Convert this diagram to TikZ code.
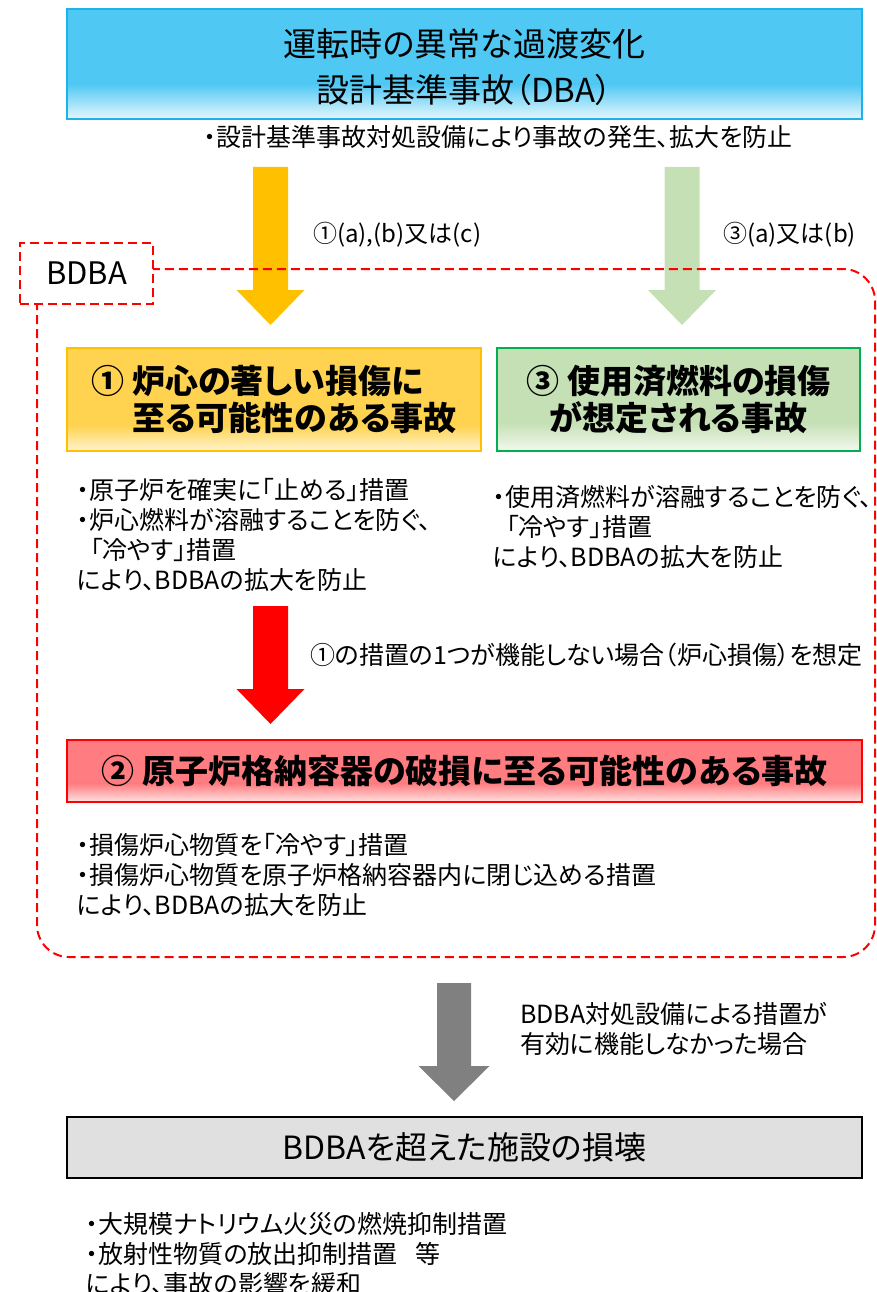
\documentclass[tikz,border=0pt]{standalone}
\usepackage{fontspec}
\setmainfont[RawFeature=+palt]{Noto Sans CJK JP}
\usetikzlibrary{calc}
\definecolor{cyanfill}{HTML}{4FC8F4}
\definecolor{cyanlight}{HTML}{E6F7FD}
\definecolor{cyanborder}{HTML}{1DB2EA}
\definecolor{goldfill}{HTML}{FFD34F}
\definecolor{goldlight}{HTML}{FFF4D1}
\definecolor{goldborder}{HTML}{FFC000}
\definecolor{greenfill}{HTML}{C5E0B4}
\definecolor{greenlight}{HTML}{F2F9EE}
\definecolor{greenborder}{HTML}{00B050}
\definecolor{pinkfill}{HTML}{FF7C80}
\definecolor{pinklight}{HTML}{FFE3E3}
\definecolor{grayfill}{HTML}{E0E0E0}
\definecolor{arrowyellow}{HTML}{FFC000}
\definecolor{arrowgreen}{HTML}{C5E0B4}
\definecolor{arrowgray}{HTML}{808080}
\newcommand\myarrow[4]{\fill[#1] (#2-17.5,#3) -- (#2+17.5,#3) -- (#2+17.5,#4-35) -- (#2+34,#4-35) -- (#2,#4) -- (#2-34,#4-35) -- (#2-17.5,#4-35) -- cycle;}
\begin{document}
\begin{tikzpicture}[x=1pt,y=-1pt,
  gbox/.style n args={4}{draw=#1, line width=2.2pt, inner sep=0pt,
    path picture={
      \fill[#2] (path picture bounding box.south west) rectangle (path picture bounding box.north east);
      \shade[top color=#2, bottom color=#3] (path picture bounding box.south west) rectangle ($(path picture bounding box.north east)!#4!(path picture bounding box.south east)$);
    }},
  titlefont/.style={font=\fontsize{33}{46}\selectfont},
  boxfont/.style={font=\bfseries\fontsize{33}{37}\selectfont},
  bodytext/.style={anchor=west, align=left, inner sep=0pt, font=\fontsize{25}{30}\selectfont},
  bdbaline/.style={draw=red, line width=2pt, dash pattern=on 9pt off 5pt},
]
\useasboundingbox (0,0) rectangle (877,1292);

% top box
\node[gbox={cyanborder}{cyanfill}{cyanlight}{0.68}, minimum width=795pt, minimum height=110pt, inner ysep=0pt] (dba) at (464.5,64) {};
\node[titlefont, align=center, inner sep=0pt] (dbatitle) at (464.5,67.5) {運転時の異常な過渡変化\\設計基準事故（DBA）};
\node[bodytext] (dbatext) at (204,137) {・設計基準事故対処設備により事故の発生、拡大を防止};

% arrows from top
\myarrow{arrowyellow}{270.5}{167}{325}
\myarrow{arrowgreen}{682}{167}{325}
\node[bodytext, font=\fontsize{24}{30}\selectfont] (lab1) at (313,235) {①(a),(b)又は(c)};
\node[bodytext, font=\fontsize{24}{30}\selectfont] (lab3) at (723,235) {③(a)又は(b)};

% BDBA region
\draw[bdbaline, rounded corners=32pt] (37,269) rectangle (875,957);
\node[bdbaline, fill=white, minimum width=133pt, minimum height=61pt, font=\fontsize{31}{32}\selectfont] (bdba) at (86.5,273) {BDBA};

% box 1
\node[gbox={goldborder}{goldfill}{goldlight}{0.75}, minimum width=414pt, minimum height=103pt, boxfont, align=left] (box1) at (274,399.5) {① 炉心の著しい損傷に\\\hspace*{41pt}至る可能性のある事故};
% box 3
\node[gbox={greenborder}{greenfill}{greenlight}{0.72}, minimum width=363pt, minimum height=103pt, boxfont, align=center] (box3) at (678.5,399.5) {③ 使用済燃料の損傷\\が想定される事故};

\node[bodytext] (text1) at (77,535) {・原子炉を確実に「止める」措置\\・炉心燃料が溶融することを防ぐ、\\\hspace*{13pt}「冷やす」措置\\により、BDBAの拡大を防止};
\node[bodytext] (text3) at (493,527) {・使用済燃料が溶融することを防ぐ、\\\hspace*{13pt}「冷やす」措置\\により、BDBAの拡大を防止};

% red arrow
\myarrow{red}{270.5}{606}{724}
\node[bodytext] (lab2) at (310,655) {①の措置の1つが機能しない場合（炉心損傷）を想定};

% box 2
\node[gbox={red}{pinkfill}{pinklight}{0.7}, minimum width=795pt, minimum height=62pt, boxfont] (box2) at (464.5,771) {② 原子炉格納容器の破損に至る可能性のある事故};
\node[bodytext] (text2) at (77,875) {・損傷炉心物質を「冷やす」措置\\・損傷炉心物質を原子炉格納容器内に閉じ込める措置\\により、BDBAの拡大を防止};

% gray arrow
\fill[arrowgray] (437,983) -- (471,983) -- (471,1066) -- (489.5,1066) -- (454,1101) -- (418.5,1066) -- (437,1066) -- cycle;
\node[bodytext] (labg) at (520,1029) {BDBA対処設備による措置が\\有効に機能しなかった場合};

% bottom box
\node[draw=black, line width=2.5pt, fill=grayfill, minimum width=795pt, minimum height=61pt, inner sep=0pt, font=\fontsize{32}{36}\selectfont] (beyond) at (464.5,1147.5) {BDBAを超えた施設の損壊};
\node[bodytext] (text4) at (86,1254) {・大規模ナトリウム火災の燃焼抑制措置\\・放射性物質の放出抑制措置\hspace{0.7em}等\\により、事故の影響を緩和};
\end{tikzpicture}
\end{document}
